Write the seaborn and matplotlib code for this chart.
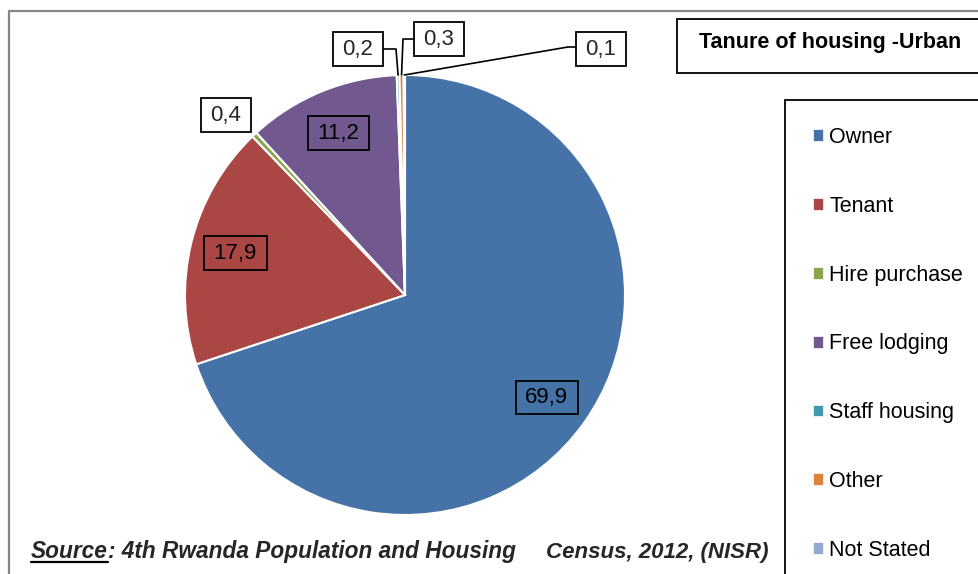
import numpy as np
import matplotlib
matplotlib.use("Agg")
import matplotlib.pyplot as plt
import seaborn as sns
from matplotlib.patches import Rectangle
from matplotlib.lines import Line2D
from matplotlib.path import Path

# ---------------- data ----------------
categories = ["Owner", "Tenant", "Hire purchase", "Free lodging",
              "Staff housing", "Other", "Not Stated"]
values = [69.9, 17.9, 0.4, 11.2, 0.2, 0.3, 0.1]
value_labels = ["69,9", "17,9", "0,4", "11,2", "0,2", "0,3", "0,1"]
colors = ["#4572A7", "#AA4643", "#89A54E", "#71588F", "#4198AF", "#DB843D", "#93A9CF"]
title = "Tanure of housing -Urban"

sns.set_theme(style="white")
plt.rcParams["font.family"] = ["Liberation Sans", "DejaVu Sans"]

W, H = 979, 574
fig = plt.figure(figsize=(W / 100, H / 100), dpi=100)
ax = fig.add_axes([0, 0, 1, 1])

# pie geometry in pixels
CX, CY, R = 405, 295, 220


def px(x, y):
    """pixel (from top-left) -> data coords (radius 1 = R px)"""
    return (x - CX) / R, (CY - y) / R


wedges, _ = ax.pie(values, colors=colors, startangle=90, counterclock=False,
                   radius=1, center=(0, 0),
                   wedgeprops=dict(edgecolor="white", linewidth=1.5))
ax.set_aspect("auto")
ax.set_xlim(-CX / R, (W - CX) / R)
ax.set_ylim(-(H - CY) / R, CY / R)
ax.axis("off")


def label_box(x0, y0, width, height, mutation_size):
    padx = 0.44 * mutation_size
    pady = 0.28 * mutation_size
    x0, x1 = x0 - padx, x0 + width + padx
    y0, y1 = y0 - pady, y0 + height + pady
    return Path([(x0, y0), (x1, y0), (x1, y1), (x0, y1), (x0, y0)], closed=True)


box = dict(boxstyle=label_box, fc="none", ec="black", lw=1.3)
box_w = dict(boxstyle=label_box, fc="white", ec="black", lw=1.3)
fs_lab = 16

# labels of the big slices, placed along each wedge's mid angle
for i in [0, 1, 3]:
    w = wedges[i]
    ang = np.deg2rad((w.theta1 + w.theta2) / 2)
    ax.text(0.795 * np.cos(ang), 0.795 * np.sin(ang), value_labels[i],
            ha="center", va="center", fontsize=fs_lab, bbox=box, color="black")


def edge_point(i):
    w = wedges[i]
    ang = np.deg2rad((w.theta1 + w.theta2) / 2)
    return np.cos(ang), np.sin(ang)


# small slices: outside labels with leaders
ax.text(*px(226, 115), value_labels[2], ha="center", va="center",
        fontsize=fs_lab, bbox=box_w)

# 0,2  (Staff housing)
ax.text(*px(358, 49), value_labels[4], ha="center", va="center",
        fontsize=fs_lab, bbox=box_w)
ex, ey = edge_point(4)
p1 = px(384, 49); p2 = px(396, 49)
ax.plot([p1[0], p2[0], ex], [p1[1], p2[1], ey], color="black", lw=1.2)

# 0,3  (Other)
ax.text(*px(439, 39), value_labels[5], ha="center", va="center",
        fontsize=fs_lab, bbox=box_w)
ex, ey = edge_point(5)
p1 = px(414, 39); p2 = px(403, 39)
ax.plot([p1[0], p2[0], ex], [p1[1], p2[1], ey], color="black", lw=1.2)

# 0,1  (Not Stated)
ax.text(*px(601, 49), value_labels[6], ha="center", va="center",
        fontsize=fs_lab, bbox=box_w)
ex, ey = edge_point(6)
p1 = px(576, 47); p2 = px(568, 47)
ax.plot([p1[0], p2[0], ex], [p1[1], p2[1], ey], color="black", lw=1.2)


# ---------- frame elements in figure pixel coordinates ----------
def fx(x):
    return x / W


def fy(y):
    return 1 - y / H


# outer chart border (top and left visible)
fig.add_artist(Line2D([fx(9), fx(9), fx(1000)], [fy(600), fy(11), fy(11)],
                      color="#878787", lw=1.6, transform=fig.transFigure))

# title box
fig.add_artist(Rectangle((fx(677), fy(73)), fx(1000) - fx(677), fy(19) - fy(73),
                         transform=fig.transFigure, fc="white", ec="black", lw=1.3))
fig.text(fx(699), fy(48), title, ha="left", va="baseline", fontsize=15.5,
         fontweight="bold", color="black")

# legend box
fig.add_artist(Rectangle((fx(785), fy(600)), fx(1000) - fx(785), fy(100) - fy(600),
                         transform=fig.transFigure, fc="white", ec="black", lw=1.3))
handles = [Rectangle((0, 0), 1, 1, fc=c, ec="white", lw=0.5) for c in colors]
leg = fig.legend(handles, categories, loc="upper left",
                 bbox_to_anchor=(fx(813), fy(127)), frameon=False,
                 fontsize=15.5, handlelength=0.46, handleheight=0.46,
                 handletextpad=0.3, labelspacing=2.22, borderpad=0,
                 borderaxespad=0)
for t in leg.get_texts():
    t.set_color("black")

# source text
renderer = fig.canvas.get_renderer()
t1 = fig.text(fx(31), fy(558), "Source", ha="left", va="baseline", fontsize=16.3,
              fontweight="bold", fontstyle="italic")
bb = t1.get_window_extent(renderer)
fig.add_artist(Line2D([bb.x0 / W, bb.x1 / W], [fy(562), fy(562)], color="black",
                      lw=1.6, transform=fig.transFigure))
t2 = fig.text(bb.x1 / W, fy(558), ": 4th Rwanda Population and Housing", ha="left",
              va="baseline", fontsize=16.3, fontweight="bold", fontstyle="italic")
bb2 = t2.get_window_extent(renderer)
fig.text(bb2.x1 / W + fx(30), fy(558), "Census, 2012, (NISR)", ha="left",
         va="baseline", fontsize=16, fontweight="bold", fontstyle="italic")

fig.savefig("out.png", dpi=100)
